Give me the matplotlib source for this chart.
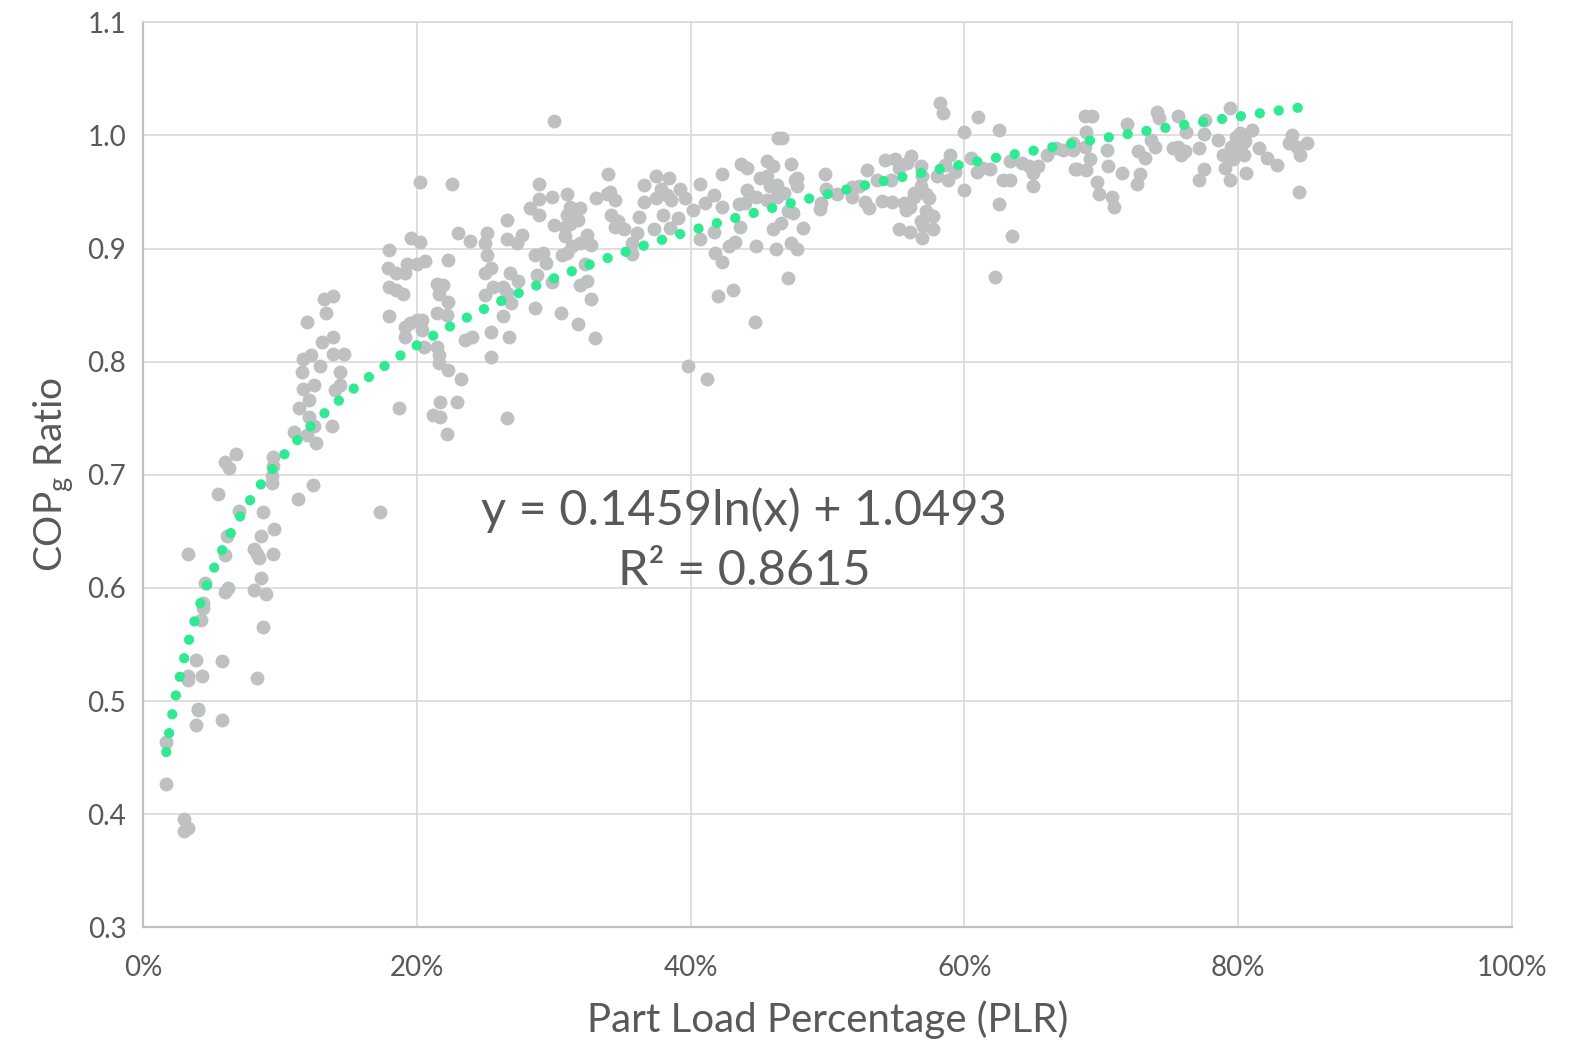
import numpy as np
import matplotlib
matplotlib.use("Agg")
import matplotlib.pyplot as plt

plt.rcParams['font.family'] = ['Lato', 'DejaVu Sans']

# part load (%) and COPg ratio
plr_low = [1.7, 1.7, 3.0, 3.3, 3.0, 3.3, 3.3, 3.3, 4.3, 3.9, 4.0, 4.0, 3.9, 5.8, 5.8, 8.3,
           4.2, 4.4, 4.4, 4.5, 8.8, 6.0, 6.2, 8.1, 9.0, 8.6, 6.0, 8.1, 8.3, 8.5, 9.5, 6.1,
           8.6, 9.6, 8.8, 7.0, 5.5, 6.0, 6.3, 6.8, 9.5, 9.5, 9.4, 9.4, 11.3, 12.4, 17.3]
cop_low = [0.464, 0.427, 0.396, 0.388, 0.385, 0.630, 0.522, 0.519, 0.522, 0.536, 0.493, 0.492,
           0.479, 0.483, 0.535, 0.520, 0.572, 0.587, 0.582, 0.604, 0.565, 0.596, 0.600, 0.598,
           0.595, 0.609, 0.629, 0.634, 0.630, 0.626, 0.630, 0.646, 0.646, 0.652, 0.667, 0.668,
           0.683, 0.711, 0.706, 0.718, 0.716, 0.708, 0.699, 0.693, 0.679, 0.691, 0.667]

plr_mid = [20.2, 22.6, 23.0, 23.9, 25.1, 25.0, 25.1, 25.0, 25.4, 25.0, 25.6, 25.4, 25.4, 23.5, 24.0,
           21.5, 21.9, 21.6, 22.3, 21.5, 22.2, 22.3,
           18.0, 17.9, 18.5, 19.1, 19.3, 20.0, 20.6, 19.6, 20.2,
           18.0, 18.5, 19.0, 18.0,
           19.1, 19.5, 20.0, 20.4, 19.1, 20.4, 20.5,
           21.5, 21.6, 21.6, 22.3, 23.2,
           21.7, 22.9, 21.2, 21.7, 22.2, 18.7,
           13.2, 13.9, 13.4, 12.0, 13.1, 13.9, 12.3, 11.7, 13.9, 14.7, 12.9, 11.6, 14.4, 12.5,
           11.7, 14.4, 14.0, 12.1, 11.4, 12.1, 11.0, 12.5, 13.8, 12.6, 12.0]
cop_mid = [0.959, 0.957, 0.914, 0.907, 0.914, 0.905, 0.894, 0.878, 0.883, 0.859, 0.866, 0.826, 0.804, 0.819, 0.822,
           0.869, 0.868, 0.860, 0.853, 0.843, 0.841, 0.890,
           0.899, 0.883, 0.878, 0.878, 0.886, 0.886, 0.889, 0.909, 0.906,
           0.866, 0.863, 0.860, 0.840,
           0.831, 0.834, 0.837, 0.837, 0.822, 0.828, 0.813,
           0.813, 0.806, 0.799, 0.793, 0.785,
           0.764, 0.764, 0.753, 0.751, 0.736, 0.759,
           0.855, 0.858, 0.843, 0.835, 0.817, 0.822, 0.806, 0.802, 0.807, 0.807, 0.796, 0.791, 0.791, 0.779,
           0.776, 0.779, 0.775, 0.766, 0.759, 0.751, 0.738, 0.743, 0.743, 0.728, 0.735]

plr_30s = [30.05, 34.0, 28.9, 28.9, 29.9, 31.0, 28.3, 28.9,
           26.6, 26.6, 27.3, 27.7,
           30.05, 30.8, 31.2, 31.9, 31.0, 31.6, 31.8, 31.2, 30.8,
           32.4, 32.7, 31.9, 31.3, 30.95, 30.6, 29.25, 28.6, 29.4, 28.8,
           26.8, 27.4, 26.3, 26.6, 26.9, 26.3,
           32.3, 32.4, 31.9, 32.7, 29.9, 28.6, 30.5, 31.8, 33.0, 26.7, 26.6,
           33.1, 33.9, 34.5, 34.1, 34.2, 34.7, 34.5, 35.1, 36.2, 36.1, 35.7, 35.7, 37.35,
           36.6, 36.6, 37.5, 38.4, 37.8, 37.5, 38.25, 38.6, 39.2, 39.6, 38.0, 38.5, 39.1,
           40.7, 40.2, 40.7, 41.05, 41.7, 41.7, 42.3, 42.3, 41.8, 42.3, 42.0, 43.1, 39.8, 41.2,
           42.8, 43.25, 43.7, 44.1, 44.1, 44.8, 44.7, 45.6, 46.05, 46.4, 46.05, 46.2, 46.3,
           43.5, 44.0, 43.6, 45.1, 45.6, 45.8, 46.3, 44.8, 45.6]
cop_30s = [1.013, 0.966, 0.957, 0.944, 0.946, 0.948, 0.936, 0.930,
           0.925, 0.908, 0.905, 0.912,
           0.921, 0.911, 0.937, 0.936, 0.930, 0.928, 0.925, 0.922, 0.919,
           0.912, 0.903, 0.905, 0.902, 0.896, 0.894, 0.896, 0.894, 0.887, 0.877,
           0.878, 0.871, 0.866, 0.861, 0.852, 0.840,
           0.886, 0.871, 0.868, 0.855, 0.870, 0.847, 0.843, 0.833, 0.821, 0.822, 0.750,
           0.945, 0.948, 0.943, 0.950, 0.930, 0.924, 0.919, 0.917, 0.928, 0.914, 0.905, 0.895, 0.917,
           0.956, 0.941, 0.964, 0.962, 0.953, 0.945, 0.947, 0.943, 0.953, 0.945, 0.930, 0.918, 0.927,
           0.957, 0.934, 0.908, 0.940, 0.947, 0.915, 0.966, 0.937, 0.896, 0.888, 0.858, 0.863, 0.796, 0.785,
           0.902, 0.906, 0.975, 0.971, 0.952, 0.902, 0.835, 0.977, 0.973, 0.998, 0.917, 0.900, 0.956,
           0.939, 0.940, 0.919, 0.962, 0.964, 0.955, 0.946, 0.946, 0.943]

plr_50s = [58.2, 58.4, 61.0, 62.5, 60.0, 46.65,
           47.3, 47.6, 47.75, 47.75, 49.8, 49.9, 49.5, 49.45,
           50.7, 51.8, 51.8, 52.3, 52.7, 53.0, 52.9, 53.6,
           54.2, 54.9, 54.6, 54.0, 54.7, 55.2, 55.8, 56.1, 55.6, 55.7, 56.3, 56.8, 56.9, 56.8,
           57.2, 57.4, 56.0, 56.3, 55.2, 56.0, 56.9, 56.8, 57.7, 57.7, 57.2, 57.0,
           58.0, 58.6, 58.95, 58.8, 59.3, 60.0, 60.5, 60.9, 61.9, 61.3, 62.5,
           62.85, 63.3, 63.3, 63.5, 62.2, 64.2, 64.7, 65.0, 65.4, 65.0, 66.0, 66.7,
           46.8, 47.1, 47.5, 48.2, 47.3, 47.75, 47.1, 46.6]
cop_50s = [1.029, 1.020, 1.016, 1.005, 1.003, 0.998,
           0.975, 0.961, 0.962, 0.955, 0.966, 0.953, 0.940, 0.935,
           0.948, 0.954, 0.946, 0.955, 0.941, 0.936, 0.969, 0.961,
           0.978, 0.979, 0.961, 0.942, 0.941, 0.971, 0.976, 0.982, 0.940, 0.934, 0.949, 0.973, 0.964, 0.955,
           0.948, 0.945, 0.937, 0.946, 0.917, 0.915, 0.909, 0.924, 0.917, 0.929, 0.933, 0.920,
           0.964, 0.974, 0.983, 0.961, 0.968, 0.952, 0.980, 0.968, 0.970, 0.971, 0.939,
           0.961, 0.961, 0.977, 0.911, 0.875, 0.976, 0.973, 0.967, 0.973, 0.955, 0.983, 0.989,
           0.949, 0.933, 0.931, 0.918, 0.905, 0.900, 0.874, 0.923]

plr_high = [68.8, 69.3, 68.9, 71.9, 74.05, 74.2, 75.6, 77.6, 79.4,
            67.2, 67.9, 68.1, 68.8, 67.95, 70.4,
            69.2, 68.2, 68.9, 70.5, 71.5, 69.7, 69.8, 70.8, 70.9,
            72.7, 73.2, 73.6, 73.9, 72.8, 72.6,
            75.2, 75.6, 75.8, 76.1, 76.2, 77.1, 77.5, 77.5, 77.1,
            78.55, 78.9, 79.0, 79.4, 79.65, 79.8, 80.1, 80.3, 80.4, 80.6, 81.0, 80.3, 79.5, 79.9, 80.5,
            81.55, 82.1, 82.8, 83.9, 83.7, 84.3, 85.0, 84.5, 84.4]
cop_high = [1.017, 1.017, 1.003, 1.010, 1.021, 1.015, 1.017, 1.014, 1.024,
            0.987, 0.993, 0.970, 0.990, 0.987, 0.987,
            0.979, 0.970, 0.969, 0.973, 0.967, 0.959, 0.948, 0.946, 0.937,
            0.986, 0.980, 0.996, 0.990, 0.966, 0.957,
            0.989, 0.990, 0.983, 0.986, 1.003, 0.989, 1.001, 0.970, 0.961,
            0.996, 0.983, 0.971, 0.961, 0.979, 0.999, 1.002, 0.993, 0.983, 0.967, 1.005, 0.992, 0.990, 0.987, 0.995,
            0.989, 0.980, 0.974, 1.000, 0.993, 0.990, 0.993, 0.983, 0.950]

# trendline shown on the chart
fit_a = 0.1459
fit_b = 1.0493
r2 = 0.8615

plr = np.array(plr_low + plr_mid + plr_30s + plr_50s + plr_high)
cop = np.array(cop_low + cop_mid + cop_30s + cop_50s + cop_high)

text_col = '#595959'
grid_col = '#D9D9D9'

fig = plt.figure(figsize=(15.89, 10.43), dpi=100)
ax = fig.add_axes([0.090, 0.111, 0.8616, 0.8676])

ax.scatter(plr, cop, s=100, color='#BFC0C2', linewidths=0, zorder=3)

xt = np.linspace(plr.min(), plr.max(), 400)
yt = fit_a * np.log(xt / 100) + fit_b
ax.plot(xt, yt, color='#2FEA92', lw=7.4, linestyle=(0, (0.01, 1.85)),
        dash_capstyle='round', zorder=4)

ax.set_xlim(0, 100)
ax.set_ylim(0.3, 1.1)
ax.set_xticks(np.arange(0, 101, 20))
ax.set_xticklabels([f'{v}%' for v in range(0, 101, 20)])
ax.set_yticks(np.round(np.arange(0.3, 1.11, 0.1), 1))
ax.set_yticklabels([f'{v:.1f}' for v in np.arange(0.3, 1.11, 0.1)])
ax.grid(True, color=grid_col, lw=1.2, zorder=0)
ax.set_axisbelow(True)
ax.tick_params(length=0, labelsize=20, colors=text_col, pad=12)
ax.tick_params(axis='x', pad=20)

for s in ['top', 'right']:
    ax.spines[s].set_color(grid_col)
    ax.spines[s].set_linewidth(1.2)
for s in ['left', 'bottom']:
    ax.spines[s].set_color('#BFBFBF')
    ax.spines[s].set_linewidth(1.6)

ax.set_xlabel('Part Load Percentage (PLR)', fontsize=29, color=text_col, labelpad=14)
ax.set_ylabel('COP$_\\mathregular{g}$ Ratio', fontsize=28, color=text_col, labelpad=8)

ax.text(43.9, 0.669, f'y = {fit_a}ln(x) + {fit_b}', fontsize=35, color=text_col,
        ha='center', va='center', zorder=5)
ax.text(43.9, 0.615, f'R² = {r2}', fontsize=35, color=text_col,
        ha='center', va='center', zorder=5)

fig.savefig('out.png', dpi=100)
